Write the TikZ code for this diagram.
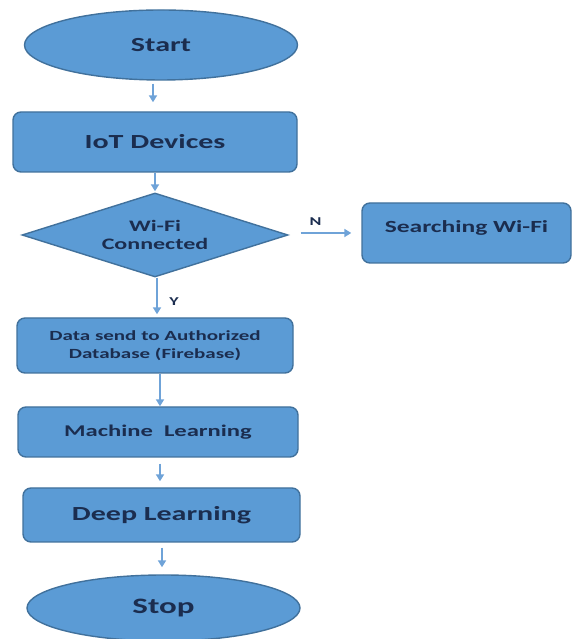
\documentclass[tikz,border=0pt]{standalone}
\usepackage{fontspec}
\setmainfont{Carlito}[FakeStretch=1.5]
\usepackage{xcolor}
\usepackage{tikz}
\usetikzlibrary{shapes.geometric, arrows.meta, positioning}

\definecolor{boxfill}{HTML}{5B9BD5}
\definecolor{boxline}{HTML}{41719C}
\definecolor{arrline}{HTML}{6FA3D8}
\definecolor{txtdark}{HTML}{1B2D4F}

\begin{document}
\begin{tikzpicture}[x=1pt, y=1pt, >={Triangle[length=7pt,width=8pt]},
    term/.style={ellipse, draw=boxline, line width=1.4pt, fill=boxfill,
        text=txtdark, inner sep=0pt, font=\bfseries},
    box/.style={rectangle, rounded corners=8pt, draw=boxline, line width=1.4pt,
        fill=boxfill, text=txtdark, inner sep=0pt, align=center, font=\bfseries},
    check/.style={diamond, aspect=3, draw=boxline, line width=1.4pt, fill=boxfill,
        text=txtdark, inner sep=0pt, align=center, font=\bfseries},
    arr/.style={->, arrline, line width=2pt},
    lab/.style={text=txtdark, font=\bfseries\fontsize{12}{12}\selectfont}]

    \useasboundingbox (0,0) rectangle (572,639);

    % =================================================================
    % Cot chinh: tu Start den Stop
    % =================================================================
    \node[term, minimum width=273pt, minimum height=70pt,
        font=\bfseries\fontsize{20}{24}\selectfont] (start) at (161,594) {Start};

    \node[box, minimum width=284pt, minimum height=60pt,
        font=\bfseries\fontsize{20}{24}\selectfont] (iot) at (155,497) {IoT Devices};

    \node[check, minimum width=266pt, minimum height=84pt,
        font=\bfseries\fontsize{16}{18}\selectfont] (wifi) at (155,404) {Wi-Fi\\Connected};

    \node[box, minimum width=276pt, minimum height=55pt,
        font=\bfseries\fontsize{14}{17}\selectfont] (data) at (155,293.5)
        {Data send to Authorized\\[1pt]Database (Firebase)};

    \node[box, minimum width=280pt, minimum height=50pt,
        font=\bfseries\fontsize{16.4}{19}\selectfont] (ml) at (158,207) {Machine\ \ Learning};

    \node[box, minimum width=277pt, minimum height=54pt,
        font=\bfseries\fontsize{20}{24}\selectfont] (dl) at (161.5,124) {Deep Learning};

    \node[term, minimum width=273pt, minimum height=66pt,
        font=\bfseries\fontsize{22}{26}\selectfont] (stop) at (163.5,31) {Stop};

    % Nhanh N ben phai
    \node[box, minimum width=209pt, minimum height=60pt, text depth=12pt,
        font=\bfseries\fontsize{17}{20}\selectfont] (search) at (466.5,406) {Searching Wi-Fi};

    % =================================================================
    % Cac mui ten
    % =================================================================
    \draw[arr, shorten <=3pt, shorten >=9pt] ([xshift=-8pt]start.south) -- ([xshift=-2pt]iot.north);
    \draw[arr, shorten >=1pt] (iot.south) -- (wifi.north);
    \draw[arr, shorten <=12pt, shorten >=10pt] ([yshift=2pt]wifi.east) -- (search.west)
        node[lab, pos=0.37, above=3pt] (nlab) {N};
    \draw[arr, shorten >=3pt] ([xshift=2pt]wifi.south) -- ([xshift=2pt]data.north)
        node[lab, pos=0.6, right=8pt] (ylab) {Y};
    \draw[arr] ([xshift=5pt]data.south) -- ([xshift=2pt]ml.north);
    \draw[arr, shorten <=6pt, shorten >=6pt] ([xshift=2pt]ml.south) -- ([xshift=-1.5pt]dl.north);
    \draw[arr, shorten <=5pt, shorten >=7pt] ([xshift=0.5pt]dl.south) -- ([xshift=-1.5pt]stop.north);

\end{tikzpicture}
\end{document}
